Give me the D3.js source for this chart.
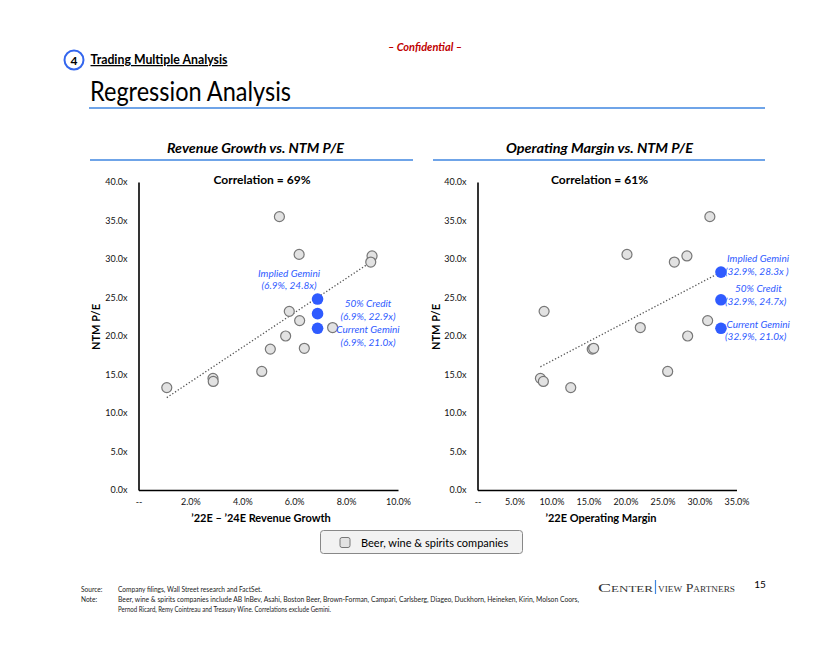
<!DOCTYPE html>
<html>
<head>
<meta charset="utf-8">
<script src="https://cdn.jsdelivr.net/npm/d3@7"></script>
<style>
  body { margin: 0; background: #fff; }
  svg { display: block; font-family: Lato, "Open Sans", sans-serif; }
</style>
</head>
<body>
<div id="container"></div>
<script>
// P/E of the 14 peers, with revenue growth and operating margin (same order)
const peerPE     = [35.5, 30.6, 30.4, 29.6, 23.2, 22.0, 21.1, 20.0, 18.3, 18.4, 15.4, 14.5, 14.1, 13.3];
const peerGrowth = [5.43, 6.19, 9.0, 8.95, 5.81, 6.21, 7.48, 5.67, 5.08, 6.39, 4.75, 2.87, 2.88, 1.09];
const peerMargin = [31.4, 20.2, 28.3, 26.6, 9.0, 31.1, 22.0, 28.4, 15.5, 15.7, 25.7, 8.5, 8.9, 12.6];

// Gemini points
const geminiNames  = ['Implied Gemini', '50% Credit', 'Current Gemini'];
const geminiGrowth = 6.9;
const geminiMargin = 32.9;
const geminiPEL    = [24.8, 22.9, 21.0];
const geminiPER    = [28.3, 24.7, 21.0];

// trend line ends
const trendL = [[1.09, 12.0], [8.95, 29.6]];
const trendR = [[8.5, 16.0], [32.9, 28.3]];

const yTicks  = [0, 5, 10, 15, 20, 25, 30, 35, 40];
const xTicksL = [0, 2, 4, 6, 8, 10];
const xTicksR = [0, 5, 10, 15, 20, 25, 30, 35];

const blue = '#2f5bff';
const W = 840, H = 649;

const svg = d3.select('#container').append('svg').attr('width', W).attr('height', H);

// header
svg.append('text').attr('x', 425).attr('y', 51).attr('text-anchor', 'middle')
  .style('font-size', '11px').style('font-weight', 'bold').style('font-style', 'italic')
  .style('fill', '#c00000').text('– Confidential –');

svg.append('circle').attr('cx', 74).attr('cy', 60).attr('r', 9.5)
  .attr('fill', '#fff').attr('stroke', '#3366ee').attr('stroke-width', 2);
svg.append('text').attr('x', 74).attr('y', 64.5).attr('text-anchor', 'middle')
  .style('font-size', '12px').style('font-weight', 'bold').text('4');
svg.append('text').attr('x', 90.5).attr('y', 64).attr('textLength', 137).attr('lengthAdjust', 'spacingAndGlyphs')
  .style('font-size', '12.5px').style('font-weight', 'bold').style('text-decoration', 'underline')
  .text('Trading Multiple Analysis');

svg.append('text').attr('x', 90).attr('y', 101).attr('textLength', 201).attr('lengthAdjust', 'spacingAndGlyphs')
  .style('font-size', '27px').text('Regression Analysis');
svg.append('line').attr('x1', 89).attr('x2', 765).attr('y1', 108).attr('y2', 108)
  .attr('stroke', '#3f86e0').attr('stroke-width', 1.5);

const y = d3.scaleLinear().domain([0, 40]).range([490, 182]);
const xL = d3.scaleLinear().domain([0, 10]).range([138.5, 398]);
const xR = d3.scaleLinear().domain([0, 35]).range([477.5, 736.5]);

function panel(opt) {
  const g = svg.append('g');
  g.append('text').attr('x', opt.titleX).attr('y', 153).attr('text-anchor', 'middle')
    .attr('textLength', opt.titleW).attr('lengthAdjust', 'spacingAndGlyphs')
    .style('font-size', '13px').style('font-weight', 'bold').style('font-style', 'italic')
    .text(opt.title);
  g.append('line').attr('x1', opt.rule[0]).attr('x2', opt.rule[1]).attr('y1', 160).attr('y2', 160)
    .attr('stroke', '#3f86e0').attr('stroke-width', 1.5);
  g.append('text').attr('x', opt.corrX).attr('y', 184).attr('text-anchor', 'middle')
    .attr('textLength', 97).attr('lengthAdjust', 'spacingAndGlyphs')
    .style('font-size', '12px').style('font-weight', 'bold').text(opt.corr);

  const x = opt.x;
  const yAxis = g.append('g').attr('transform', `translate(${x(0)},0)`)
    .call(d3.axisLeft(y).tickValues(yTicks).tickSize(0).tickSizeOuter(0).tickPadding(11)
      .tickFormat(d => d.toFixed(1) + 'x'));
  const xAxis = g.append('g').attr('transform', `translate(0,${y(0)})`)
    .call(d3.axisBottom(x).tickValues(opt.xTicks).tickSize(0).tickSizeOuter(0).tickPadding(9)
      .tickFormat(d => d === 0 ? '--' : d.toFixed(1) + '%'));
  [yAxis, xAxis].forEach(a => {
    a.select('.domain').attr('stroke', '#000').attr('stroke-width', 1.6);
    a.selectAll('text').style('font-size', '9px').style('font-family', 'Lato, sans-serif').attr('fill', '#111');
  });

  g.append('text').attr('transform', `translate(${opt.ntmX},327) rotate(-90)`).attr('text-anchor', 'middle')
    .style('font-size', '11px').style('font-weight', 'bold').text('NTM P/E');
  g.append('text').attr('x', opt.xTitleX).attr('y', 522).attr('text-anchor', 'middle')
    .style('font-size', '11px').style('font-weight', 'bold').text(opt.xTitle);

  // trend line
  g.append('path').datum(opt.trend)
    .attr('d', d3.line().x(d => x(d[0])).y(d => y(d[1])))
    .attr('fill', 'none').attr('stroke', '#555').attr('stroke-width', 1.3).attr('stroke-dasharray', '1.3,2');

  // peers
  g.selectAll('circle.peer').data(peerPE).enter().append('circle').attr('class', 'peer')
    .attr('cx', (d, i) => x(opt.peerX[i])).attr('cy', d => y(d)).attr('r', 5)
    .attr('fill', '#e2e2e2').attr('stroke', '#777').attr('stroke-width', 1.2);

  // gemini
  g.selectAll('circle.gem').data(opt.gemPE).enter().append('circle').attr('class', 'gem')
    .attr('cx', x(opt.gemX)).attr('cy', d => y(d)).attr('r', 5.8).attr('fill', blue);

  opt.gemPE.forEach((v, i) => {
    const p = opt.labelPos[i];
    const t = g.append('text').attr('x', p[0]).attr('text-anchor', p[2])
      .style('font-size', '10px').style('font-style', 'italic').style('fill', blue);
    t.append('tspan').attr('x', p[0]).attr('y', p[1]).text(geminiNames[i]);
    t.append('tspan').attr('x', p[0] + (p[3] || 0)).attr('y', p[1] + 12.5)
      .text(`(${opt.gemX}%, ${v.toFixed(1)}x${opt.pad && i === 0 ? ' ' : ''})`);
  });
}

panel({
  title: 'Revenue Growth vs. NTM P/E', titleX: 255.5, titleW: 177, rule: [90, 413],
  corr: 'Correlation = 69%', corrX: 262,
  x: xL, xTicks: xTicksL, ntmX: 100, xTitleX: 261, xTitle: '’22E – ’24E Revenue Growth',
  trend: trendL, peerX: peerGrowth, gemX: geminiGrowth, gemPE: geminiPEL,
  labelPos: [[289, 276.5, 'middle'], [368, 307, 'middle'], [368, 333, 'middle']]
});

panel({
  title: 'Operating Margin vs. NTM P/E', titleX: 599.5, titleW: 187, rule: [433, 765],
  corr: 'Correlation = 61%', corrX: 599.5,
  x: xR, xTicks: xTicksR, ntmX: 440, xTitleX: 601, xTitle: '’22E Operating Margin',
  trend: trendR, peerX: peerMargin, gemX: geminiMargin, gemPE: geminiPER, pad: true,
  labelPos: [[727, 262, 'start', -2], [735, 292, 'start', -10], [726.5, 327.5, 'start', -1.5]]
});

// legend
svg.append('rect').attr('x', 320.5).attr('y', 530.5).attr('width', 202).attr('height', 23).attr('rx', 3)
  .attr('fill', '#f2f2f2').attr('stroke', '#888');
svg.append('rect').attr('x', 340).attr('y', 537.5).attr('width', 10).attr('height', 10).attr('rx', 2)
  .attr('fill', '#e2e2e2').attr('stroke', '#777');
svg.append('text').attr('x', 361).attr('y', 546.5).style('font-size', '11px')
  .text('Beer, wine & spirits companies');

// footer
const foot = svg.append('g').style('font-size', '6.6px').style('fill', '#222');
foot.append('text').attr('x', 81).attr('y', 592).text('Source:');
foot.append('text').attr('x', 118).attr('y', 592).text('Company filings, Wall Street research and FactSet.');
foot.append('text').attr('x', 81).attr('y', 602).text('Note:');
foot.append('text').attr('x', 118).attr('y', 602).attr('textLength', 461).attr('lengthAdjust', 'spacingAndGlyphs')
  .text('Beer, wine & spirits companies include AB InBev, Asahi, Boston Beer, Brown-Forman, Campari, Carlsberg, Diageo, Duckhorn, Heineken, Kirin, Molson Coors,');
foot.append('text').attr('x', 118).attr('y', 612).attr('textLength', 213).attr('lengthAdjust', 'spacingAndGlyphs')
  .text('Pernod Ricard, Remy Cointreau and Treasury Wine. Correlations exclude Gemini.');

const logo = svg.append('g').style('font-family', '"Liberation Serif", "DejaVu Serif", serif')
  .style('font-variant', 'small-caps').style('font-size', '12px').style('fill', '#333');
logo.append('text').attr('x', 598).attr('y', 592).attr('textLength', 55).attr('lengthAdjust', 'spacingAndGlyphs').text('Center');
logo.append('line').attr('x1', 655.5).attr('x2', 655.5).attr('y1', 580).attr('y2', 594).attr('stroke', '#3f86e0').attr('stroke-width', 1.2);
logo.append('text').attr('x', 658).attr('y', 592).attr('textLength', 77).attr('lengthAdjust', 'spacingAndGlyphs').text('view Partners');
svg.append('text').attr('x', 760).attr('y', 588).attr('text-anchor', 'middle').style('font-size', '10px').text('15');
</script>
</body>
</html>
